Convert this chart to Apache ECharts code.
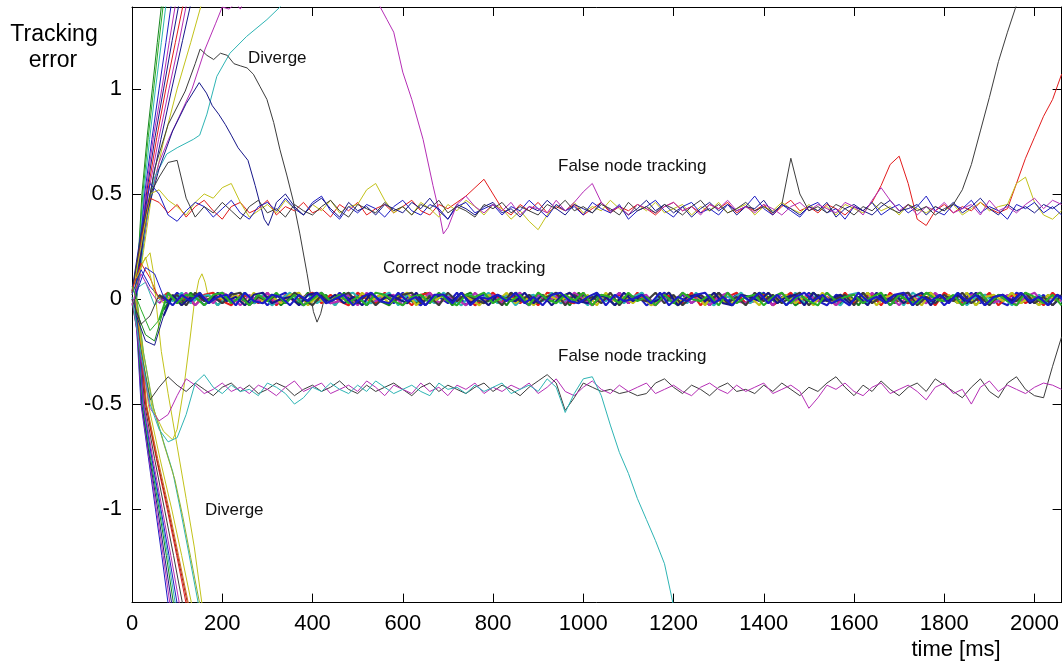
<!DOCTYPE html>
<html>
<head>
<meta charset="utf-8">
<script src="https://cdn.jsdelivr.net/npm/echarts@6/dist/echarts.min.js"></script>
<style>html,body{margin:0;padding:0;background:#fff}#c{width:1062px;height:665px}</style>
</head>
<body>
<div id="c"></div>
<script>
// ---------- tick labels ----------
const xTicks = [0,200,400,600,800,1000,1200,1400,1600,1800,2000];
const yTicks = [-1,-0.5,0,0.5,1];

// ---------- time grids (ms) ----------
const tA = [0,20,40,60,80,100,120,140,160,180,200,220,240,260,280,300,320,340,360,380,400,420,440,460,480,500,520,540,560,580,600,620,640,660,680,700,720,740,760,780,800,820,840,860,880,900,920,940,960,980,1000,1020,1040,1060,1080,1100,1120,1140,1160,1180,1200,1220,1240,1260,1280,1300,1320,1340,1360,1380,1400,1420,1440,1460,1480,1500,1520,1540,1560,1580,1600,1620,1640,1660,1680,1700,1720,1740,1760,1780,1800,1820,1840,1860,1880,1900,1920,1940,1960,1980,2000,2020,2040,2060];
const tB = [10,30,50,70,90,110,130,150,170,190,210,230,250,270,290,310,330,350,370,390,410,430,450,470,490,510,530,550,570,590,610,630,650,670,690,710,730,750,770,790,810,830,850,870,890,910,930,950,970,990,1010,1030,1050,1070,1090,1110,1130,1150,1170,1190,1210,1230,1250,1270,1290,1310,1330,1350,1370,1390,1410,1430,1450,1470,1490,1510,1530,1550,1570,1590,1610,1630,1650,1670,1690,1710,1730,1750,1770,1790,1810,1830,1850,1870,1890,1910,1930,1950,1970,1990,2010,2030,2050,2070];

// ---------- correct node tracking (band around 0) ----------
const band1 = [.02,.14,.06,.01,-.02,.03,-.01,.02,-.03,.01,
-.02,.03,0,-.02,.02,-.03,.01,.03,-.01,-.03,
.02,0,-.02,.03,-.01,.02,-.03,.01,.02,-.02,
.03,-.01,-.03,.02,.01,-.02,.03,-.03,.01,.02,
-.01,-.02,.03,0,-.03,.02,-.01,.03,-.02,.01,
.02,-.03,.01,-.01,.03,-.02,.02,-.03,0,.03,
-.01,.02,-.02,.01,-.03,.03,-.01,.02,-.02,0,
.03,-.03,.01,.02,-.02,.03,-.01,-.03,.02,.01,
-.02,.03,-.01,.02,-.03,.01,.03,-.02,0,.02,
-.03,.01,-.01,.03,-.02,.02,-.01,-.03,.03,.01,
-.02,.02,-.03,.01,.02,-.01];
const band2 = [-.06,-.17,-.2,-.05,.01,-.02,.03,-.01,.02,-.03,
.02,-.01,.03,-.02,0,.02,-.03,.01,-.02,.03,
-.01,.02,-.03,.03,-.02,.01,.02,-.01,-.03,.02,
0,-.02,.03,-.01,.02,-.03,.01,.03,-.02,-.01,
.02,-.03,.03,0,-.02,.01,-.01,.02,-.03,.03,
-.02,.01,.02,-.03,.01,-.01,.03,-.02,.02,0,
-.03,.02,.01,-.02,.03,-.01,-.03,.02,-.01,.03,
.01,-.02,.02,-.03,0,.03,-.01,.01,-.02,.02,
-.03,.03,-.01,.02,-.02,.01,-.03,.02,.03,-.01,
.01,-.02,.03,-.03,.02,0,-.01,.03,-.02,.01,
-.03,.02,-.01,.03,-.02];
const band3 = [.04,.17,.1,0,.03,-.02,.01,-.03,.02,.03,
-.01,-.03,.02,.01,-.02,.03,-.03,.02,-.01,.01,
.03,-.02,.02,-.01,-.03,.03,0,-.02,.03,-.01,
.01,-.03,.02,.03,-.02,.01,-.01,.02,-.03,0,
.03,-.01,.02,-.02,.01,-.03,.03,.02,-.01,-.02,
.03,-.03,.01,0,.02,-.02,.03,-.01,-.03,.02,
.01,-.02,.03,-.03,.02,-.01,.01,.03,-.02,-.01,
.02,-.03,0,.03,-.02,.02,-.01,.01,-.03,.03,
-.02,.01,.02,-.03,.03,-.01,-.02,.02,.01,-.03,
.03,0,-.02,.02,-.01,.03,-.03,.01,.02,-.02,
.01,-.03,.03,-.01,.02,0];
const band4 = [.05,.08,-.03,.02,-.01,.03,-.02,.01,.02,-.03,
.01,-.01,.03,-.02,.02,-.03,0,.03,-.01,.02,
-.02,.01,-.03,.02,.03,-.01,-.02,.01,.03,-.03,
.02,-.01,.01,-.02,.03,0,-.03,.02,-.01,.03,
-.02,.02,-.03,.01,.02,-.01,.03,-.02,0,.01,
-.03,.03,-.01,.02,-.02,.01,.03,-.03,.02,-.01,
.01,-.02,.03,-.01,-.03,.02,0,.03,-.02,.01,
-.01,.02,-.03,.03,-.02,.01,.02,-.01,-.03,.02,
.03,-.02,.01,-.01,.02,-.03,.03,0,-.02,.02,
-.01,.03,-.03,.01,.02,-.02,.01,-.03,.03,-.01,
.02,-.02,.01,-.03,.03];
const band5 = [-.03,.12,.04,-.02,.02,-.01,.03,-.03,.01,-.02,
.03,.01,-.03,.02,-.01,.03,-.02,0,.02,-.03,
.01,.03,-.02,-.01,.02,-.03,.03,-.01,.01,.02,
-.03,.02,-.01,.03,-.02,.01,0,-.03,.03,-.01,
.02,-.02,.01,.03,-.03,.02,-.01,.01,-.02,.03,
0,-.03,.02,-.01,.03,-.02,.01,.02,-.03,.01,
-.01,.03,-.02,.02,-.03,.01,.03,-.01,-.02,.02,
.01,-.03,.03,-.02,0,.02,-.01,.03,-.03,.01,
.02,-.02,.03,-.01,.01,-.03,.02,0,-.02,.03,
-.01,.01,-.03,.02,.03,-.02,-.01,.02,-.03,.01,
.03,-.02,.01,-.01,.02,-.03];
const band6 = [.1,.2,.03,-.02,.02,-.03,.01,.03,-.02,.01,
-.01,.02,-.03,.03,-.01,.01,-.02,.02,.03,-.03,
.01,-.02,.02,0,-.03,.03,-.01,.02,-.02,.01,
.03,-.03,.01,-.01,.02,-.02,.03,0,-.03,.02,
-.01,.03,-.02,.01,-.03,.02,.01,-.01,.03,-.02,
.02,-.03,.03,-.01,.01,-.02,.02,-.03,0,.03,
-.02,.01,.02,-.03,.03,-.01,-.02,.02,.01,-.03,
.03,-.01,.02,-.02,.01,-.03,.03,-.02,.02,0,
-.01,.03,-.03,.01,.02,-.02,.01,-.03,.03,-.01,
.02,-.02,.03,-.03,.01,.02,-.01,.03,-.02,.01,
-.03,.02,-.01,.03,-.02];
const band7 = [0,-.12,-.08,.02,-.01,.02,-.03,.03,-.01,.01,
-.02,.02,.03,-.03,.01,-.01,.02,-.02,.03,0,
-.03,.02,-.01,.01,.03,-.02,.02,-.03,.01,-.01,
.02,.03,-.02,.01,-.03,.03,-.01,.02,0,-.02,
.01,-.03,.03,-.01,.02,-.02,.01,.03,-.03,.02,
-.01,.01,-.02,.03,-.03,.02,0,-.01,.03,-.02,
.02,-.03,.01,.02,-.01,.03,-.02,.01,-.03,.03,
-.01,.02,-.02,.01,.03,-.03,.02,-.01,0,.02,
-.03,.03,-.02,.01,-.01,.02,.03,-.03,.01,-.02,
.02,-.01,.03,-.02,.01,-.03,.02,0,-.01,.03,
-.02,.01,-.03,.02,.03,-.01];
const band8 = [-.08,-.2,-.22,-.08,.02,-.03,.01,.02,-.02,.03,
-.01,.01,-.03,.02,.03,-.02,0,.01,-.03,.02,
.03,-.01,.02,-.02,.01,-.03,.03,-.01,.02,0,
-.02,.03,-.03,.01,.02,-.01,.03,-.02,.01,-.03,
.02,0,-.01,.03,-.02,.02,-.03,.01,.03,-.01,
-.02,.02,.01,-.03,.03,-.01,.02,-.02,0,.03,
-.03,.01,.02,-.01,.03,-.02,-.03,.02,.01,-.01,
.03,-.02,.01,.02,-.03,.03,-.01,0,.02,-.02,
.01,-.03,.03,-.01,.02,-.02,.01,.03,-.03,.02,
-.01,.02,-.02,.03,-.03,.01,.02,-.01,.03,-.02,
.01,-.03,.02,0,-.01];
const band9 = [.06,-.05,-.15,-.1,.03,-.02,.02,.01,-.03,.02,
.03,-.02,.01,-.03,.02,-.01,.03,-.02,.02,-.03,
0,.03,-.01,.02,-.02,.01,-.03,.03,.02,-.01,
-.03,.01,.02,-.02,.03,-.01,-.03,.02,.01,.03,
-.02,.01,-.01,.02,-.03,.03,0,-.02,.02,-.01,
.03,-.03,.02,.01,-.02,.03,-.01,.01,-.03,.02,
-.02,.03,0,-.01,.02,-.03,.03,-.02,.01,.02,
-.03,.01,.03,-.02,.02,-.01,-.03,.03,-.01,.01,
.02,-.02,.01,.03,-.03,.02,-.01,-.02,.03,0,
-.01,.02,-.03,.01,.03,-.02,.02,-.01,-.03,.03,
.01,-.02,.02,-.03,.01,.02];
const band10 = [.03,.15,.12,.01,-.03,.02,-.01,.03,-.02,.01,
.02,-.03,.03,-.01,-.02,.02,.01,-.03,.02,-.01,
.03,-.02,0,.02,-.03,.01,.03,-.01,-.02,.03,
-.01,.01,-.03,.02,.02,-.02,.03,-.03,.01,0,
.02,-.01,.03,-.02,.01,-.03,.02,.03,-.01,-.02,
.01,.03,-.03,.02,-.01,0,.02,-.02,.03,-.03,
.01,-.01,.02,.03,-.02,.01,-.03,.02,-.01,.03,
-.02,.02,-.03,.01,.03,-.01,.02,-.02,0,-.03,
.03,-.01,.01,-.02,.02,.03,-.03,.01,-.01,.02,
-.02,.03,-.01,.02,-.03,.01,.02,-.02,.03,-.01,
.01,-.03,.02,-.02,.03];

// ---------- false node tracking, upper (~ +0.43), on tA ----------
const fRed = [.03,.28,.48,.46,.41,.45,.39,.44,.47,.42,
.38,.44,.46,.41,.43,.47,.40,.44,.42,.46,
.41,.43,.39,.45,.42,.46,.40,.43,.45,.41,
.44,.47,.42,.40,.45,.43,.46,.49,.53,.57,
.50,.43,.40,.45,.42,.46,.41,.44,.42,.45,
.40,.43,.46,.41,.44,.42,.45,.43,.40,.44,
.46,.42,.44,.41,.45,.43,.46,.41,.44,.42,
.45,.40,.44,.47,.42,.44,.41,.45,.43,.40,
.44,.42,.46,.54,.64,.68,.55,.38,.35,.42,
.45,.41,.44,.42,.46,.43,.41,.43,.55,.67,
.77,.87,.95,1.07];
const fYellow = [.02,.25,.50,.52,.47,.44,.40,.46,.50,.48,
.53,.55,.46,.39,.42,.45,.41,.47,.43,.40,
.45,.42,.47,.41,.44,.45,.52,.55,.47,.41,
.44,.40,.46,.43,.39,.45,.42,.47,.44,.40,
.45,.43,.38,.42,.37,.33,.40,.45,.42,.46,
.41,.44,.42,.47,.43,.40,.45,.42,.46,.41,
.43,.45,.40,.44,.42,.46,.41,.43,.45,.40,
.44,.42,.46,.43,.41,.45,.42,.44,.40,.45,
.43,.41,.46,.42,.44,.40,.45,.43,.41,.44,
.42,.45,.40,.43,.46,.42,.44,.45,.55,.58,
.46,.40,.38,.42];
const fBlue = [.04,.32,.55,.50,.40,.37,.42,.46,.44,.39,
.43,.47,.41,.38,.44,.46,.42,.48,.43,.40,
.46,.49,.42,.38,.44,.41,.45,.43,.39,.44,
.47,.42,.40,.45,.43,.38,.44,.46,.41,.43,
.45,.40,.44,.42,.47,.43,.39,.45,.42,.44,
.40,.46,.43,.41,.45,.38,.42,.44,.47,.42,
.39,.44,.46,.41,.43,.40,.45,.42,.44,.49,
.43,.40,.45,.42,.39,.44,.46,.41,.43,.38,
.44,.42,.46,.40,.43,.45,.41,.44,.49,.42,
.40,.45,.43,.47,.41,.44,.42,.38,.45,.43,
.46,.41,.44,.40];
const fNavy = [null,null,null,null,null,null,null,null,null,null,
null,null,null,null,null,null,.46,.50,.44,.40,
.45,.48,.43,.39,.46,.42,.44,.40,.45,.43,
.41,.46,.43,.48,.42,.38,.45,.43,.40,.44,
.46,.41,.43,.39,.44,.42,.47,.43,.40,.45,
.43,.41,.46,.42,.44,.40,.43,.47,.42,.45,
.41,.44,.39,.43,.46,.42,.45,.40,.44,.43,
.47,.41,.45,.43,.40,.44,.42,.46,.39,.43,
.45,.42,.40,.44,.47,.42,.43,.45,.40,.44,
.42,.46,.41,.44,.48,.43,.40,.45,.42,.44,
.41,.45,.43,.46];
const fMagenta = [null,null,null,null,null,null,null,null,null,null,
null,null,null,null,null,null,null,null,null,null,
null,null,null,null,null,null,null,null,null,null,
null,null,null,null,null,.34,.45,.49,.44,.41,
.45,.42,.46,.40,.44,.43,.41,.47,.42,.46,
.51,.55,.46,.42,.44,.40,.45,.43,.41,.44,
.46,.42,.44,.40,.45,.43,.47,.42,.44,.41,
.45,.43,.40,.44,.46,.42,.45,.43,.41,.46,
.44,.40,.47,.53,.47,.42,.45,.40,.44,.42,
.46,.41,.43,.45,.40,.47,.42,.44,.41,.45,
.48,.43,.47,.45];
const fBlack = [.03,.30,.50,.58,.65,.66,.48,.39,.44,.41,
.46,.42,.38,.44,.47,.41,.43,.39,.45,.42,
.40,.44,.47,.42,.39,.45,.43,.41,.46,.42,
.44,.40,.45,.43,.47,.41,.44,.42,.39,.45,
.43,.46,.41,.44,.42,.40,.45,.43,.47,.42,
.44,.41,.45,.43,.40,.46,.42,.44,.41,.45,
.43,.40,.44,.47,.42,.45,.41,.43,.46,.42,
.44,.41,.45,.67,.50,.42,.44,.41,.45,.43,
.40,.44,.42,.46,.43,.41,.45,.42,.44,.40,
.43,.45,.52,.64,.80,.96,1.13,1.27,1.40,1.55];

// ---------- false node tracking, lower (~ -0.43), on tA ----------
const lBlack = [-.02,-.25,-.48,-.42,-.37,-.41,-.44,-.40,-.43,-.46,
-.42,-.40,-.44,-.41,-.45,-.43,-.40,-.42,-.46,-.43,
-.41,-.44,-.42,-.39,-.43,-.45,-.41,-.44,-.42,-.40,
-.43,-.46,-.42,-.40,-.44,-.41,-.43,-.45,-.42,-.40,
-.44,-.41,-.43,-.46,-.42,-.39,-.36,-.40,-.53,-.47,
-.40,-.42,-.44,-.43,-.45,-.44,-.46,-.45,-.40,-.38,
-.42,-.45,-.41,-.43,-.46,-.42,-.40,-.44,-.43,-.45,
-.41,-.44,-.40,-.43,-.46,-.42,-.44,-.40,-.37,-.42,
-.46,-.41,-.44,-.39,-.43,-.46,-.42,-.40,-.44,-.38,
-.41,-.44,-.47,-.42,-.38,-.44,-.47,-.40,-.37,-.43,
-.46,-.47,-.32,-.18];
const lMagenta = [0,-.28,-.52,-.58,-.55,-.46,-.38,-.41,-.45,-.43,
-.40,-.44,-.42,-.45,-.41,-.43,-.46,-.42,-.39,-.44,
-.42,-.40,-.45,-.43,-.41,-.44,-.39,-.42,-.46,-.41,
-.43,-.45,-.40,-.44,-.42,-.46,-.41,-.43,-.40,-.45,
-.42,-.44,-.41,-.43,-.40,-.45,-.42,-.38,-.44,-.46,
-.42,-.39,-.43,-.45,-.41,-.44,-.42,-.40,-.45,-.43,
-.41,-.44,-.46,-.42,-.40,-.43,-.45,-.41,-.44,-.42,
-.40,-.45,-.43,-.41,-.44,-.52,-.47,-.41,-.43,-.40,
-.44,-.46,-.42,-.40,-.45,-.43,-.41,-.44,-.48,-.42,
-.40,-.45,-.43,-.50,-.42,-.39,-.44,-.41,-.43,-.45,
-.42,-.40,-.41,-.43];
const lCyan = [.01,-.26,-.50,-.62,-.68,-.66,-.55,-.40,-.36,-.42,
-.45,-.41,-.44,-.43,-.46,-.40,-.42,-.45,-.50,-.47,
-.42,-.44,-.40,-.43,-.45,-.41,-.44,-.39,-.42,-.45,
-.43,-.41,-.44,-.46,-.40,-.43,-.42,-.45,-.41,-.44,
-.42,-.40,-.45,-.43,-.41,-.44,-.38,-.42,-.54,-.45,
-.38,-.37,-.46,-.60,-.73,-.83,-.95,-1.05,-1.15,-1.26,
-1.46,-1.62];

// ---------- diverging / transient tracks, [time, error] ----------
const upGreen1 = [[6,0],[14,.2],[22,.5],[34,.78],[45,1.0],[56,1.22],[68,1.45],[75,1.6]];
const upGreen2 = [[6,.02],[15,.22],[24,.5],[36,.77],[48,1.0],[60,1.23],[72,1.45],[80,1.6]];
const upCyan1 = [[7,0],[16,.2],[26,.5],[39,.76],[52,1.0],[65,1.22],[78,1.45],[86,1.6]];
const upBlue1 = [[7,.01],[17,.21],[28,.5],[44,.76],[60,1.0],[75,1.22],[90,1.45],[100,1.62]];
const upMag1 = [[8,0],[18,.2],[30,.5],[48,.78],[66,1.0],[83,1.23],[100,1.45],[110,1.6]];
const upNavy1 = [[8,.02],[19,.22],[32,.5],[51,.77],[70,1.0],[89,1.23],[108,1.45],[118,1.6]];
const upRed1 = [[9,0],[20,.2],[34,.5],[55,.77],[75,1.0],[96,1.22],[118,1.45],[128,1.6]];
const upMag2 = [[9,.01],[21,.22],[36,.5],[59,.76],[82,1.0],[104,1.22],[125,1.45],[135,1.6]];
const upNavy2 = [[10,0],[23,.22],[40,.5],[64,.76],[88,1.0],[112,1.23],[135,1.45],[145,1.6]];
const upYellow1 = [[10,.01],[25,.22],[44,.5],[70,.75],[100,1.0],[130,1.22],[160,1.45],[172,1.6]];
const upMagLong = [[9,0],[22,.22],[40,.48],[60,.65],[81,.76],[105,.87],[133,1.0],[162,1.19],[185,1.31],[200,1.39],[215,1.38],[230,1.41],[240,1.38],[255,1.45],[300,1.6],[500,1.6],[535,1.45],[550,1.39],[565,1.33],[580,1.27],[600,1.08],[620,.95],[645,.76],[667,.54],[680,.42],[690,.31],[700,.34]];
const upCyanBig = [[10,0],[30,.35],[50,.58],[77,.69],[100,.72],[136,.76],[150,.78],[166,.88],[188,1.06],[217,1.17],[254,1.25],[299,1.33],[328,1.39],[360,1.47]];
const upBlackBig = [[8,0],[25,.3],[50,.62],[80,.83],[118,.99],[140,1.12],[151,1.19],[166,1.16],[181,1.14],[196,1.17],[211,1.16],[226,1.12],[240,1.11],[255,1.10],[269,1.07],[284,1.01],[299,.95],[314,.84],[328,.71],[343,.59],[357,.47],[372,.31],[388,.12],[402,-.06],[410,-.11],[418,-.07],[426,0],[440,.01]];
const upNavyPeak = [[8,0],[30,.38],[60,.62],[90,.80],[120,.93],[149,1.03],[165,.98],[178,.92],[192,.88],[207,.83],[220,.78],[235,.72],[257,.66],[273,.54],[284,.45],[293,.38],[302,.35],[311,.40],[320,.46]];

const dnBlue1 = [[5,0],[12,-.2],[20,-.5],[36,-.75],[52,-1.0],[66,-1.22],[80,-1.45],[88,-1.6]];
const dnMag1 = [[5,.01],[13,-.2],[21,-.5],[38,-.76],[54,-1.0],[69,-1.22],[84,-1.45],[92,-1.6]];
const dnNavy1 = [[6,0],[14,-.21],[22,-.5],[40,-.77],[57,-1.0],[72,-1.22],[88,-1.45],[96,-1.6]];
const dnGreen1 = [[6,0],[14,-.2],[23,-.5],[42,-.77],[60,-1.0],[76,-1.22],[92,-1.45],[100,-1.6]];
const dnCyan1 = [[7,.01],[15,-.2],[24,-.5],[43,-.76],[62,-1.0],[79,-1.22],[96,-1.45],[104,-1.6]];
const dnBlue2 = [[7,0],[16,-.21],[25,-.5],[45,-.77],[64,-1.0],[82,-1.22],[100,-1.45],[108,-1.6]];
const dnMag2 = [[8,0],[17,-.2],[26,-.5],[47,-.77],[67,-1.0],[86,-1.22],[105,-1.45],[113,-1.6]];
const dnBlack1 = [[8,.01],[18,-.22],[28,-.5],[50,-.76],[72,-1.0],[92,-1.22],[112,-1.45],[120,-1.6]];
const dnRed1 = [[9,0],[19,-.21],[30,-.5],[54,-.76],[78,-1.0],[99,-1.22],[120,-1.45],[128,-1.6]];
const dnRed2 = [[9,0],[20,-.22],[31,-.5],[56,-.77],[80,-1.0],[101,-1.22],[123,-1.45],[131,-1.6]];
const dnOrange = [[10,0],[21,-.22],[32,-.5],[57,-.76],[82,-1.0],[103,-1.22],[125,-1.45],[133,-1.6]];
const dnYellow1 = [[10,.01],[22,-.22],[36,-.5],[62,-.76],[88,-1.0],[110,-1.22],[132,-1.45],[140,-1.6]];
const dnCyan2 = [[10,0],[25,-.25],[45,-.5],[70,-.68],[90,-.82],[107,-1.0],[125,-1.2],[147,-1.45],[155,-1.6]];
const dnYGreen = [[11,0],[26,-.26],[48,-.52],[72,-.7],[95,-.86],[112,-1.03],[130,-1.23],[150,-1.45],[158,-1.6]];
const dnYellow2 = [[8,.05],[22,.17],[40,.22],[48,.12],[55,-.05],[65,-.25],[80,-.45],[100,-.7],[120,-.95],[138,-1.18],[155,-1.45],[162,-1.6]];
const yellowBump = [[8,0],[25,-.3],[45,-.52],[70,-.63],[90,-.67],[100,-.62],[115,-.42],[128,-.2],[138,-.02],[148,.09],[155,.12],[162,.08],[168,.02],[175,-.01],[185,.01]];

// ---------- styling ----------
const C = {
  blue:'#1c1cc4', navy:'#17178a', green:'#17861f', lgreen:'#2aae2a', red:'#e21c1c',
  dred:'#a31a1a', orange:'#cc6a1c', cyan:'#2eb4b4', magenta:'#b52eb5',
  yellow:'#c2c21a', ygreen:'#8fb02c', black:'#3c3c3c'
};
const FONT = 'Liberation Sans, Arial, Helvetica, sans-serif';

function onGrid(grid, vals){
  const out = [];
  for (let i = 0; i < vals.length && i < grid.length; i++) {
    if (vals[i] !== null) out.push([grid[i], vals[i]]);
  }
  return out;
}
function line(data, color, w){
  return {type:'line', data, symbol:'none', showSymbol:false, clip:true, silent:true,
    animation:false, lineStyle:{width:w||1, color}, itemStyle:{color}, xAxisIndex:0, yAxisIndex:0};
}
// band track: thin during the initial transient, thicker once settled
function bandLines(grid, vals, color){
  const d = onGrid(grid, vals);
  return [line(d.slice(0, 4), color, 1), line(d.slice(3), color, 2.1)];
}

const series = [
  line(upGreen1,C.green), line(upGreen2,C.lgreen), line(upCyan1,C.cyan), line(upBlue1,C.blue),
  line(upMag1,C.magenta), line(upNavy1,C.navy), line(upRed1,C.red), line(upMag2,C.magenta),
  line(upNavy2,C.navy), line(upYellow1,C.yellow), line(upMagLong,C.magenta), line(upCyanBig,C.cyan),
  line(upBlackBig,C.black), line(upNavyPeak,C.navy),
  line(dnBlue1,C.blue), line(dnMag1,C.magenta), line(dnNavy1,C.navy), line(dnGreen1,C.green),
  line(dnCyan1,C.cyan), line(dnBlue2,C.blue), line(dnMag2,C.magenta), line(dnBlack1,C.black),
  line(dnRed1,C.red), line(dnRed2,C.dred), line(dnOrange,C.orange), line(dnYellow1,C.yellow),
  line(dnCyan2,C.cyan), line(dnYGreen,C.ygreen), line(dnYellow2,C.yellow), line(yellowBump,C.yellow),
  line(onGrid(tA,fRed),C.red), line(onGrid(tA,fYellow),C.yellow), line(onGrid(tA,fBlue),C.blue),
  line(onGrid(tA,fNavy),C.navy), line(onGrid(tA,fMagenta),C.magenta), line(onGrid(tA,fBlack),C.black),
  line(onGrid(tA,lBlack),C.black), line(onGrid(tA,lMagenta),C.magenta), line(onGrid(tA,lCyan),C.cyan),
  ...bandLines(tA,band1,C.blue), ...bandLines(tB,band2,C.green), ...bandLines(tA,band3,C.red),
  ...bandLines(tB,band4,C.cyan), ...bandLines(tA,band5,C.magenta), ...bandLines(tB,band6,C.yellow),
  ...bandLines(tA,band7,C.black), ...bandLines(tB,band8,C.navy), ...bandLines(tA,band9,C.lgreen),
  ...bandLines(tB,band10,C.blue)
];

const axLine = {show:true, onZero:false, lineStyle:{color:'#000', width:1}};
const tick = vals => ({show:true, inside:true, length:9, customValues:vals, lineStyle:{color:'#000', width:1}});
const lbl = vals => ({show:true, customValues:vals, color:'#000', fontSize:22, fontFamily:FONT, margin:10,
  formatter: v => String(v)});

const chart = echarts.init(document.getElementById('c'), null, {renderer:'canvas'});
chart.setOption({
  backgroundColor:'#fff',
  animation:false,
  grid:{left:132, top:7, width:931, height:595.6, containLabel:false},
  xAxis:[
    {type:'value', position:'bottom', min:0, max:2060, axisLine:axLine, axisTick:tick(xTicks), axisLabel:lbl(xTicks), splitLine:{show:false}},
    {type:'value', position:'top', min:0, max:2060, axisLine:axLine, axisTick:tick(xTicks), axisLabel:{show:false}, splitLine:{show:false}}
  ],
  yAxis:[
    {type:'value', position:'left', min:-1.445, max:1.39, axisLine:axLine, axisTick:tick(yTicks), axisLabel:lbl(yTicks), splitLine:{show:false}},
    {type:'value', position:'right', min:-1.445, max:1.39, axisLine:axLine, axisTick:tick(yTicks), axisLabel:{show:false}, splitLine:{show:false}}
  ],
  graphic:[
    {type:'text', x:54, y:35, style:{text:'Tracking', fontSize:23, fontFamily:FONT, fill:'#000', align:'center', verticalAlign:'middle'}},
    {type:'text', x:53, y:61, style:{text:'error', fontSize:23, fontFamily:FONT, fill:'#000', align:'center', verticalAlign:'middle'}},
    {type:'text', x:956, y:650, style:{text:'time [ms]', fontSize:22, fontFamily:FONT, fill:'#000', align:'center', verticalAlign:'middle'}},
    {type:'text', x:248, y:58, style:{text:'Diverge', fontSize:17, fontFamily:FONT, fill:'#111', verticalAlign:'middle'}},
    {type:'text', x:558, y:166, style:{text:'False node tracking', fontSize:17, fontFamily:FONT, fill:'#111', verticalAlign:'middle'}},
    {type:'text', x:383, y:268, style:{text:'Correct node tracking', fontSize:17, fontFamily:FONT, fill:'#111', verticalAlign:'middle'}},
    {type:'text', x:558, y:356, style:{text:'False node tracking', fontSize:17, fontFamily:FONT, fill:'#111', verticalAlign:'middle'}},
    {type:'text', x:205, y:510, style:{text:'Diverge', fontSize:17, fontFamily:FONT, fill:'#111', verticalAlign:'middle'}}
  ],
  series
});
</script>
</body>
</html>
